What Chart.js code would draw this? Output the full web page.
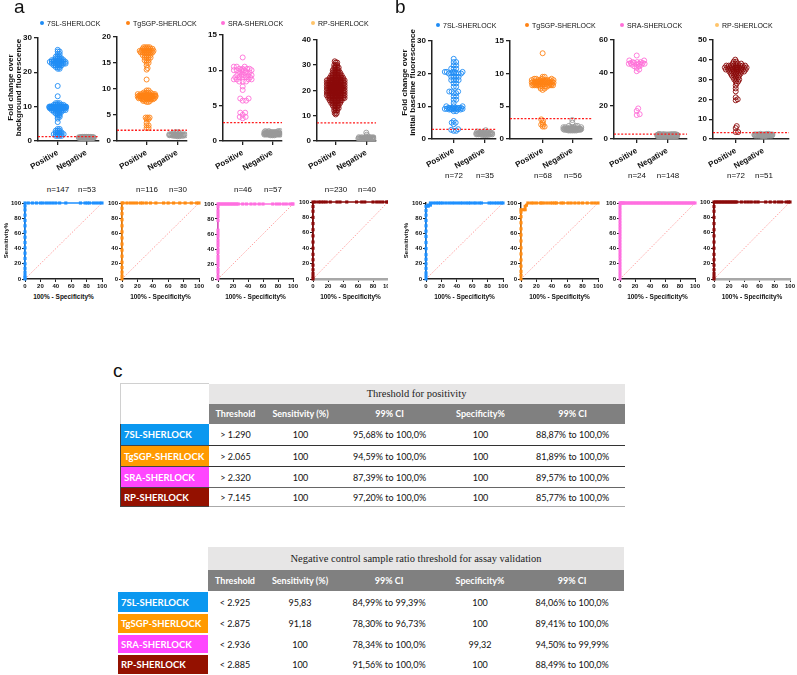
<!DOCTYPE html>
<html>
<head>
<meta charset="utf-8">
<script src="https://cdn.jsdelivr.net/npm/chart.js@4.4.0/dist/chart.umd.min.js"></script>
<style>
  body { margin: 0; background: #fff; }
  #fig { position: relative; width: 797px; height: 675px; overflow: hidden; font-family: "Liberation Sans", Arial, sans-serif; color: #111; }
  .abs { position: absolute; white-space: pre; }
  .box { position: absolute; overflow: hidden; }
  table.t { position: absolute; border-collapse: collapse; table-layout: fixed; font-family: Lato, "Open Sans", sans-serif; }
  table.t td { padding: 0; text-align: center; font-size: 9px; color: #111; white-space: nowrap; overflow: hidden; }
  table.t td.hd1 { background: #e7e6e6; font-family: "Liberation Serif", "Times New Roman", serif; font-size: 10.5px; color: #222; }
  table.t td.hd2 { background: #808080; color: #fff; font-weight: bold; }
  table.t td.nm { color: #fff; font-weight: bold; text-align: left; padding-left: 3px; font-size: 9.5px; }
</style>
</head>
<body>
<div id="fig"></div>
<script>
// ---- categories / labels ----
const assays = ['7SL-SHERLOCK', 'TgSGP-SHERLOCK', 'SRA-SHERLOCK', 'RP-SHERLOCK'];
const groups = ['Positive', 'Negative'];

// ---- panel a: fold change over background, [value, count] ----
const aPos7SL = [[26.5,1],[26,2],[25.3,2],[24.5,3],[24,4],[23.5,7],[23,9],[22.5,8],[22,5],[21.5,3],[21,2],[16,1],[13,1],
  [11,3],[10.5,6],[10,20],[9.8,17],[9.5,12],[9,8],[8.5,5],[8,3],[7.5,2],[7,2],[6.5,1],[5.5,1],[3.5,2],[3,3],[2.5,4],[2,6],[1.5,4]];
const aNeg7SL = [[1.2,5],[1.1,12],[1.0,18],[0.9,12],[0.8,6]];
const aPosTg = [[18,4],[17.7,6],[17.3,8],[17,7],[16.5,5],[16,4],[15.5,3],[15,2],[14.5,1],[14,1],[13.7,1],[11.8,1],
  [9.7,2],[9.3,4],[9,8],[8.7,14],[8.5,14],[8.2,10],[8,6],[7.7,3],[7.5,2],[4.5,3],[4.2,2],[3.5,1],[3,2],[2.5,2]];
const aNegTg = [[1.7,2],[1.5,3],[1.3,5],[1.2,7],[1.1,7],[1.0,4],[0.9,2]];
const aPosSRA = [[11.8,1],[10.5,3],[10.2,4],[10,5],[9.7,4],[9.3,5],[9,5],[8.7,4],[8.4,3],[7.7,1],[7.2,1],[6,2],[5.7,2],[4,2],[3.7,1],[3.4,2],[3.2,1]];
const aNegSRA = [[1.4,4],[1.25,10],[1.1,16],[1.0,15],[0.9,9],[0.8,3]];
const aPosRP = [[31.5,1],[31,2],[30,3],[29,4],[28,5],[27,6],[26,8],[25,10],[24,14],[23,18],[22,24],[21,30],[20,26],[19,20],
  [18,16],[17,12],[16,9],[15,7],[14,5],[13,4],[12,3],[11,2],[10.5,1]];
const aNegRP = [[3.3,1],[2.5,1],[1.8,2],[1.5,4],[1.2,10],[1.0,14],[0.8,8]];
const aCounts = [[147,53],[116,30],[46,57],[230,40]];
const aThresholds = [1.29, 2.065, 2.6, 7.2];
const aYMax = [30, 20, 15, 40];
const aYStep = [10, 5, 5, 10];

// ---- panel b: fold change over initial baseline ----
const bPos7SL = [[24.5,1],[23.5,2],[22.5,2],[21.5,3],[20.5,5],[20,6],[19,4],[18,4],[17,2],[16,2],[14.5,3],[14,2],[13,2],[12,2],[11,1],
  [10,3],[9.5,7],[9.2,7],[9,4],[8.5,2],[5.5,1],[5,2],[4.5,1],[3,1],[2.8,1],[2.5,2]];
const bNeg7SL = [[2.7,1],[2.3,2],[2.0,5],[1.8,8],[1.6,9],[1.4,6],[1.2,4]];
const bPosTg = [[13.1,1],[9.5,2],[9.2,4],[9,8],[8.8,10],[8.6,12],[8.4,10],[8.2,7],[8,4],[7.7,2],[7.5,1],[3,1],[2.8,1],[2.5,1],[2.2,2],[1.9,2]];
const bNegTg = [[2.9,1],[2.5,1],[2.0,3],[1.8,6],[1.6,14],[1.5,16],[1.4,10],[1.3,5]];
const bPosSRA = [[50.5,1],[47.5,2],[46.5,3],[46,3],[45.5,3],[45,3],[44,2],[43,1],[42,1],[41,1],[18.5,1],[17,1],[15,1],[14.5,1]];
const bNegSRA = [[3.1,1],[2.8,10],[2.6,20],[2.4,30],[2.2,35],[2.0,30],[1.8,15],[1.6,7]];
const bPosRP = [[40,1],[39,2],[38,4],[37,8],[36,12],[35,10],[34,7],[33,5],[32,4],[31,3],[30,3],[29,2],[28,1],[27,1],[25.5,1],
  [24,1],[21,1],[20,1],[19.5,1],[6.5,1],[5.5,1],[3.5,2]];
const bNegRP = [[2.6,3],[2.3,8],[2.1,14],[1.9,14],[1.7,9],[1.5,3]];
const bCounts = [[72,35],[68,56],[24,148],[72,51]];
const bThresholds = [2.925, 3.1, 3.0, 3.2];
const bYMax = [30, 15, 60, 50];
const bYStep = [10, 5, 20, 10];

// ---- ROC curves: [100% - specificity, sensitivity] ----
const rocA7SL = [[0,0],[0,2],[0,5],[0,9],[0,14],[0,20],[0,27],[0,34],[0,41],[0,48],[0,55],[0,62],[0,70],[0,77],[0,84],[0,91],[0,96],[0,100],
  [4.3,100],[9.6,100],[14.8,100],[20,100],[23.5,100],[28,100],[32,100],[36,100],[40,100],[45,100],[53,100],[72,100],[78,100],[81,100],[84,100],[89,100],[93,100],[97,100],[100,100]];
const rocATg = [[0,0],[0,4],[0,9],[0,15],[0,22],[0,30],[0,38],[0,46],[0,54],[0,62],[0,70],[0,78],[0,86],[0,93],[0,100],
  [1.3,100],[6.5,100],[11,100],[15,100],[19,100],[24,100],[27,100],[31.5,100],[37,100],[44,100],[54,100],[60,100],[67,100],[75,100],[82,100],[90,100],[97,100],[100,100]];
const rocASRA = [[0,0],[0,4],[0,9],[0,13],[0,18],[0,22],[0,26],[0,30],[0,35],[0,39],[0,44],[0,48],[0,52],[0,57],[0,61],[0,65],[0,78],[0,83],[0,87],[0,91],[0,96],[0,100],
  [1,100],[3,100],[5,100],[7,100],[9,100],[11,100],[13,100],[15,100],[17,100],[19,100],[21,100],[23,100],[25,100],[27,100],[33,100],[38,100],[44,100],[49,100],[55,100],[60,100],[73,100],[78,100],[82,100],[87,100],[91,100],[96,100],[99,100],[100,100]];
const rocARP = [[0,0],[0,3],[0,7],[0,12],[0,18],[0,25],[0,32],[0,40],[0,48],[0,56],[0,64],[0,72],[0,80],[0,88],[0,94],[0,100],
  [3,100],[7.5,100],[10.6,100],[14,100],[17.6,100],[23,100],[32,100],[36,100],[45,100],[58,100],[65,100],[69,100],[80,100],[85,100],[89,100],[93,100],[98,100],[100,100]];
const rocB7SL = [[0,0],[0,4],[0,8],[0,14],[0,20],[0,26],[0,32],[0,40],[0,48],[0,56],[0,63],[0,70],[0,77],[0,84],[0,90],[0,95.8],[2.9,95.8],[2.9,97.2],[5.7,97.2],[5.7,100],
  [9.5,100],[13,100],[16,100],[19,100],[22,100],[26,100],[30,100],[33.6,100],[37,100],[41,100],[44.8,100],[48,100],[51.7,100],[55,100],[58,100],[62,100],[65,100],[69,100],[72,100],[81.9,100],[85,100],[88.8,100],[92,100],[95,100],[98,100],[100,100]];
const rocBTg = [[0,0],[0,5],[0,10],[0,17],[0,25],[0,33],[0,41],[0,50],[0,58],[0,66],[0,74],[0,82],[0,88],[0,91.2],[3.6,91.2],[5.4,91.2],[5.4,95.6],[7.1,97.1],[8.9,100],
  [13,100],[16,100],[20,100],[25,100],[27,100],[30,100],[34,100],[38,100],[41,100],[44,100],[46,100],[52,100],[55,100],[61,100],[65,100],[70,100],[75,100],[80,100],[86,100],[92,100],[96,100],[100,100]];
const rocBSRA = [[0,0],[0,4.2],[0,8.3],[0,12.5],[0,16.7],[0,20.8],[0,25],[0,29.2],[0,33.3],[0,37.5],[0,41.7],[0,45.8],[0,50],[0,54.2],[0,58.3],[0,62.5],[0,66.7],[0,70.8],[0,75],[0,79.2],[0,83.3],[0,87.5],[0,91.7],[0,95.8],[0,100],
  [0.7,100],[2,100],[3.4,100],[4.7,100],[6,100],[8,100],[10,100],[12,100],[14,100],[16,100],[18,100],[20,100],[22,100],[24,100],[26,100],[28,100],[30,100],[32,100],[34,100],[36,100],[38,100],[40,100],
  [42,100],[44,100],[46,100],[48,100],[50,100],[52,100],[54,100],[56,100],[58,100],[60,100],[62,100],[64,100],[66,100],[68,100],[70,100],[72,100],[74,100],[76,100],[78,100],[80,100],[82,100],[84,100],[86,100],[88,100],[90,100],[92,100],[94,100],[96,100],[98,100],[100,100]];
const rocBRP = [[0,0],[0,3],[0,7],[0,12],[0,18],[0,25],[0,32],[0,40],[0,48],[0,56],[0,64],[0,72],[0,80],[0,88],[0,94],[0,100],
  [2,100],[4,100],[6,100],[8,100],[10,100],[12,100],[14,100],[16,100],[18,100],[20,100],[22,100],[24,100],[26,100],[28,100],[30,100],[36,100],[41,100],[45,100],[49,100],[54,100],[58,100],[68,100],[74,100],[80,100],[85,100],[89,100],[95,100],[98,100],[100,100]];
const rocTicks = [0, 20, 40, 60, 80, 100];

// ---- table c ----
const tableHeader = ['Threshold', 'Sensitivity (%)', '99% CI', 'Specificity%', '99% CI'];
const posThr = ['> 1.290', '> 2.065', '> 2.320', '> 7.145'];
const posSens = ['100', '100', '100', '100'];
const posSensCI = ['95,68% to 100,0%', '94,59% to 100,0%', '87,39% to 100,0%', '97,20% to 100,0%'];
const posSpec = ['100', '100', '100', '100'];
const posSpecCI = ['88,87% to 100,0%', '81,89% to 100,0%', '89,57% to 100,0%', '85,77% to 100,0%'];
const negThr = ['< 2.925', '< 2.875', '< 2.936', '< 2.885'];
const negSens = ['95,83', '91,18', '100', '100'];
const negSensCI = ['84,99% to 99,39%', '78,30% to 96,73%', '78,34% to 100,0%', '91,56% to 100,0%'];
const negSpec = ['100', '100', '99,32', '100'];
const negSpecCI = ['84,06% to 100,0%', '89,41% to 100,0%', '94,50% to 99,99%', '88,49% to 100,0%'];

// ---- colours ----
const pointColors = ['#1e8cf5', '#ff8214', '#ff6fd8', '#8b0a0a'];
const legendDots = ['#1e8cf5', '#ff8214', '#ff6fd8', '#ffc46a'];
const rocColors = ['#1e90ff', '#ff8c14', '#ff6fe0', '#8b0a0a'];
const tableColors = ['#0b98f0', '#ff9a00', '#ff46ff', '#941100'];
const negColor = '#9a9a9a';

// ---- layout (pixel boxes of each plot area) ----
const aBoxes = [
  { axis: 38, pos: 58, neg: 87, end: 100, top: 37, bottom: 141 },
  { axis: 117, pos: 147, neg: 178, end: 188, top: 36, bottom: 141 },
  { axis: 223, pos: 243, neg: 273, end: 283, top: 34, bottom: 141 },
  { axis: 317, pos: 336, neg: 367, end: 377, top: 39, bottom: 141 },
];
const bBoxes = [
  { axis: 432, pos: 454, neg: 485, end: 497, top: 40, bottom: 139 },
  { axis: 510, pos: 543, neg: 573, end: 593, top: 40, bottom: 139 },
  { axis: 614, pos: 637, neg: 668, end: 688, top: 39, bottom: 139 },
  { axis: 713, pos: 736, neg: 764, end: 790, top: 39, bottom: 139 },
];
// spacing between circle centres and half width of each swarm (px): [posGap, posHalf, negGap, negHalf]
const aSwarmSize = [[1.7, 8.5, 1.6, 7.5], [1.7, 9, 1.8, 8], [3.2, 9, 1.8, 8], [1.5, 9.5, 1.8, 8]];
const bSwarmSize = [[2.4, 9, 1.8, 8], [2.0, 11, 1.8, 9], [2.8, 8, 1.8, 10], [2.2, 11, 1.8, 9]];
const rocBoxes = [
  { axis: 25, right: 102, top: 203, bottom: 279 },
  { axis: 122, right: 199, top: 203, bottom: 279 },
  { axis: 218, right: 293, top: 204, bottom: 279 },
  { axis: 313, right: 388, top: 202, bottom: 279, clip: 388 },
  { axis: 426, right: 503, top: 203, bottom: 279 },
  { axis: 521, right: 598, top: 203, bottom: 279 },
  { axis: 620, right: 695, top: 203, bottom: 279 },
  { axis: 714, right: 790, top: 202, bottom: 279 },
];

Chart.defaults.font.family = '"Liberation Sans", Arial, Helvetica, sans-serif';
Chart.defaults.color = '#111';
const fig = document.getElementById('fig');

function addText(txt, css) {
  const d = document.createElement('div');
  d.className = 'abs';
  d.textContent = txt;
  Object.assign(d.style, css);
  fig.appendChild(d);
  return d;
}

// centred text, optionally rotated -90deg
function centerText(txt, cx, cy, size, weight, w, rotate, lh) {
  const lines = txt.split('\n').length;
  const lineH = lh || size * 1.15;
  return addText(txt, {
    left: (cx - w / 2) + 'px', top: (cy - lines * lineH / 2) + 'px', width: w + 'px',
    textAlign: 'center', fontSize: size + 'px', fontWeight: weight, lineHeight: lineH + 'px',
    transform: rotate ? 'rotate(-90deg)' : 'none',
  });
}

function addCanvas(left, top, w, h, clipRight) {
  const holder = document.createElement('div');
  holder.className = 'box';
  holder.style.left = left + 'px';
  holder.style.top = top + 'px';
  holder.style.width = (clipRight ? Math.min(w, clipRight - left) : w) + 'px';
  holder.style.height = h + 'px';
  const c = document.createElement('canvas');
  c.width = w; c.height = h;
  c.style.width = w + 'px'; c.style.height = h + 'px';
  holder.appendChild(c);
  fig.appendChild(holder);
  return c;
}

function expand(pairs) {
  const out = [];
  pairs.forEach(([v, n]) => { for (let i = 0; i < n; i++) out.push(v); });
  return out;
}

// beeswarm: each value keeps its y, and gets the nearest free x slot (in px) next to the centre line
function swarm(pairs, xc, pxPerY, pxPerX, gap, maxHalf) {
  const vals = expand(pairs).sort((a, b) => a - b);
  const placed = [];
  const slots = [0];
  for (let o = 0.5; o <= maxHalf; o += 0.5) slots.push(o, -o);
  return vals.map(v => {
    const py = v * pxPerY;
    const near = placed.filter(p => Math.abs(p.py - py) < gap);
    let best = 0, bestD = -1;
    for (const o of slots) {
      let dMin = Infinity;
      for (const p of near) dMin = Math.min(dMin, Math.hypot(p.px - o, p.py - py));
      if (dMin >= gap) { best = o; bestD = Infinity; break; }
      if (dMin > bestD) { bestD = dMin; best = o; }
    }
    placed.push({ px: best, py });
    return { x: xc + best / pxPerX, y: v };
  });
}

const YW = 24, XH = 34, PT = 6, PR = 4;
function makeSwarm(box, posPairs, negPairs, color, yMax, yStep, thr, size) {
  const ppx = box.neg - box.pos;
  const xMin = 1 - (box.pos - box.axis) / ppx;
  const xMax = 2 + (box.end - box.neg) / ppx;
  const ppy = (box.bottom - box.top) / yMax;
  const canvas = addCanvas(box.axis - YW, box.top - PT, YW + (box.end - box.axis) + PR, PT + (box.bottom - box.top) + XH);
  new Chart(canvas, {
    type: 'scatter',
    data: {
      datasets: [
        { type: 'line', data: [{ x: xMin, y: thr }, { x: xMax, y: thr }], borderColor: '#ff1a1a', borderWidth: 1.3,
          borderDash: [2, 1.6], pointRadius: 0 },
        { data: swarm(posPairs, 1, ppy, ppx, size[0], size[1]), borderColor: color, backgroundColor: 'rgba(255,255,255,0)',
          pointRadius: 2.5, borderWidth: 0.9 },
        { data: swarm(negPairs, 2, ppy, ppx, size[2], size[3]), borderColor: negColor, backgroundColor: 'rgba(255,255,255,0)',
          pointRadius: 2.5, borderWidth: 0.9 },
      ],
    },
    options: {
      responsive: false, animation: false, devicePixelRatio: 1,
      layout: { padding: { top: PT, right: PR, left: 0, bottom: 0 } },
      plugins: { legend: { display: false }, tooltip: { enabled: false } },
      scales: {
        x: {
          type: 'linear', min: xMin, max: xMax,
          afterBuildTicks: s => { s.ticks = [{ value: 1 }, { value: 2 }]; },
          afterFit: s => { s.height = XH; },
          grid: { drawOnChartArea: false, drawTicks: true, tickLength: 4, color: '#222', lineWidth: 1.3 },
          border: { display: true, color: '#222', width: 1.5 },
          ticks: { callback: v => (v === 1 ? groups[0] : groups[1]), minRotation: 30, maxRotation: 30, autoSkip: false,
            font: { size: 8, weight: 'bold' }, padding: 3, color: '#111' },
        },
        y: {
          min: 0, max: yMax,
          afterFit: s => { s.width = YW; },
          ticks: { stepSize: yStep, autoSkip: false, font: { size: 8, weight: 'bold' }, padding: 2, color: '#111' },
          grid: { drawOnChartArea: false, tickLength: 4, color: '#222', lineWidth: 1.3 },
          border: { display: true, color: '#222', width: 1.5 },
        },
      },
    },
  });
}

const RW = 20, RH = 13, RPT = 5, RPR = 8;
function makeRoc(box, pairs, color, bottomColor) {
  const canvas = addCanvas(box.axis - RW, box.top - RPT, RW + (box.right - box.axis) + RPR, RPT + (box.bottom - box.top) + RH, box.clip);
  new Chart(canvas, {
    type: 'line',
    data: {
      datasets: [
        { data: pairs.map(p => ({ x: p[0], y: p[1] })), borderColor: color, borderWidth: 1.6, pointStyle: 'rect',
          pointRadius: 2.2, pointBackgroundColor: color, pointBorderWidth: 0, clip: 4 },
        { data: [{ x: 0, y: 0 }, { x: 100, y: 100 }], borderColor: '#ff9a9a', borderWidth: 0.9, borderDash: [1.5, 1.5], pointRadius: 0 },
      ],
    },
    options: {
      responsive: false, animation: false, devicePixelRatio: 1,
      layout: { padding: { top: RPT, right: RPR, left: 0, bottom: 0 } },
      plugins: { legend: { display: false }, tooltip: { enabled: false } },
      scales: {
        x: {
          type: 'linear', min: 0, max: 100,
          afterBuildTicks: s => { s.ticks = rocTicks.map(v => ({ value: v })); },
          afterFit: s => { s.height = RH; },
          grid: { drawOnChartArea: false, tickLength: 3, color: '#222', lineWidth: 1 },
          border: { display: true, color: bottomColor, width: bottomColor === '#222' ? 1.4 : 2.6 },
          ticks: { font: { size: 6, weight: 'bold' }, padding: 1, maxRotation: 0, autoSkip: false, color: '#111' },
        },
        y: {
          min: 0, max: 100,
          afterBuildTicks: s => { s.ticks = rocTicks.map(v => ({ value: v })); },
          afterFit: s => { s.width = RW; },
          grid: { drawOnChartArea: false, tickLength: 3, color: '#222', lineWidth: 1 },
          border: { display: true, color: '#222', width: 1.4 },
          ticks: { font: { size: 6, weight: 'bold' }, padding: 1, autoSkip: false, color: '#111' },
        },
      },
    },
  });
}

// ---- panel a / b swarms ----
const aPos = [aPos7SL, aPosTg, aPosSRA, aPosRP];
const aNeg = [aNeg7SL, aNegTg, aNegSRA, aNegRP];
const bPos = [bPos7SL, bPosTg, bPosSRA, bPosRP];
const bNeg = [bNeg7SL, bNegTg, bNegSRA, bNegRP];

aBoxes.forEach((box, i) => {
  makeSwarm(box, aPos[i], aNeg[i], pointColors[i], aYMax[i], aYStep[i], aThresholds[i], aSwarmSize[i]);
  centerText('n=' + aCounts[i][0], box.pos, 190, 8, 'normal', 40);
  centerText('n=' + aCounts[i][1], box.neg, 190, 8, 'normal', 40);
});
bBoxes.forEach((box, i) => {
  makeSwarm(box, bPos[i], bNeg[i], pointColors[i], bYMax[i], bYStep[i], bThresholds[i], bSwarmSize[i]);
  centerText('n=' + bCounts[i][0], box.pos, 176, 8, 'normal', 40);
  centerText('n=' + bCounts[i][1], box.neg, 176, 8, 'normal', 40);
});

// legends above each swarm
const aLegendX = [42, 128, 223, 313];
const bLegendX = [438, 527, 622, 717];
function legend(x, y, i) {
  const d = document.createElement('div');
  d.className = 'abs';
  d.style.left = (x - 2) + 'px';
  d.style.top = (y - 5) + 'px';
  d.style.fontSize = '7px';
  d.style.lineHeight = '10px';
  const dot = document.createElement('span');
  dot.style.cssText = 'display:inline-block;width:4px;height:4px;border-radius:50%;margin-right:3px;vertical-align:1px;background:' + legendDots[i];
  d.appendChild(dot);
  d.appendChild(document.createTextNode(assays[i]));
  fig.appendChild(d);
}
aLegendX.forEach((x, i) => legend(x, 24, i));
bLegendX.forEach((x, i) => legend(x, 26, i));

// ---- ROC ----
const rocs = [rocA7SL, rocATg, rocASRA, rocARP, rocB7SL, rocBTg, rocBSRA, rocBRP];
rocBoxes.forEach((box, i) => {
  makeRoc(box, rocs[i], rocColors[i % 4], i % 4 === 3 ? '#a8a8a8' : '#222');
  centerText('100% - Specificity%', (box.axis + box.right) / 2, 297, 6.5, 'bold', 90);
});

// ---- axis titles and panel letters ----
centerText('Fold change over\nbackground fluorescence', 14, 87, 8, 'bold', 120, true, 7.5);
centerText('Fold change over\ninitial baseline fluorescence', 408, 82, 8, 'bold', 130, true, 7.5);
centerText('Sensitivity%', 6, 240, 6, 'bold', 50, true);
centerText('Sensitivity%', 406, 240, 6, 'bold', 50, true);
addText('a', { left: '14px', top: '-4px', fontSize: '19px' });
addText('b', { left: '395px', top: '-4px', fontSize: '19px' });
addText('c', { left: '113px', top: '360px', fontSize: '19px' });

// ---- tables ----
function buildTable(left, top, colW, rowH, title, thr, sens, sensCI, spec, specCI, framed) {
  const t = document.createElement('table');
  t.className = 't';
  t.style.left = left + 'px';
  t.style.top = top + 'px';
  t.style.width = colW.reduce((a, b) => a + b, 0) + 'px';
  const cg = document.createElement('colgroup');
  colW.forEach(w => { const c = document.createElement('col'); c.style.width = w + 'px'; cg.appendChild(c); });
  t.appendChild(cg);

  const r1 = t.insertRow();
  r1.style.height = rowH[0] + 'px';
  const blank = r1.insertCell();
  blank.rowSpan = 2;
  if (framed) { blank.style.borderTop = '1px solid #d0d0d0'; blank.style.borderLeft = '1px solid #d0d0d0'; }
  const h = r1.insertCell();
  h.colSpan = 5;
  h.className = 'hd1';
  h.textContent = title;

  const r2 = t.insertRow();
  r2.style.height = rowH[1] + 'px';
  tableHeader.forEach(txt => { const c = r2.insertCell(); c.className = 'hd2'; c.textContent = txt; });

  assays.forEach((name, i) => {
    const r = t.insertRow();
    r.style.height = rowH[i + 2] + 'px';
    const nm = r.insertCell();
    nm.className = 'nm';
    nm.textContent = name;
    nm.style.background = tableColors[i];
    if (framed) nm.style.borderLeft = '1px solid #444';
    else nm.style.borderTop = '2px solid #fff';
    [thr[i], sens[i], sensCI[i], spec[i], specCI[i]].forEach(txt => {
      const c = r.insertCell();
      c.textContent = txt;
      if (framed) c.style.borderBottom = i < 2 ? '1.5px solid #333' : (i === 2 ? '1.5px solid #666' : '1px solid #aaa');
    });
    if (framed) nm.style.borderBottom = '1px solid #444';
  });
  fig.appendChild(t);
}

buildTable(120, 383, [88, 54, 76, 102, 80, 104], [20, 20, 22, 21, 21, 19], 'Threshold for positivity',
  posThr, posSens, posSensCI, posSpec, posSpecCI, true);
buildTable(118, 547, [90, 54, 76, 102, 80, 104], [23, 21, 22, 21, 20, 20], 'Negative control sample ratio threshold for assay validation',
  negThr, negSens, negSensCI, negSpec, negSpecCI, false);
</script>
</body>
</html>
